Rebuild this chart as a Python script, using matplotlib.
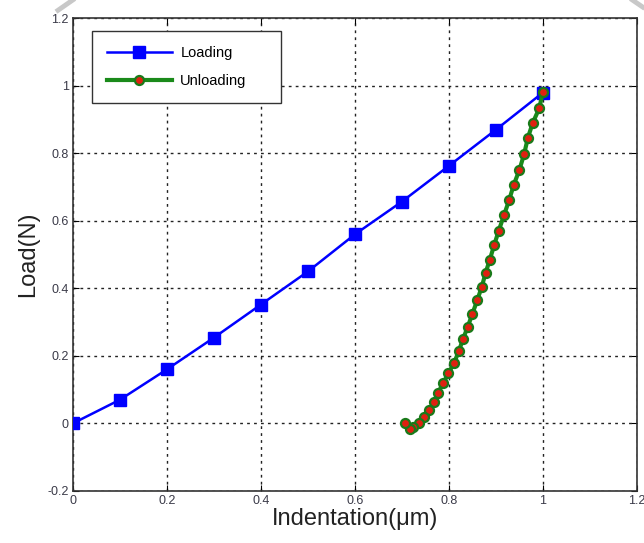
import numpy as np
import matplotlib.pyplot as plt
from matplotlib.lines import Line2D

plt.rcParams['font.family'] = ['Liberation Sans', 'DejaVu Sans']

# Loading curve
load_x = [0, 0.1, 0.2, 0.3, 0.4, 0.5, 0.6, 0.7, 0.8, 0.9, 1.0]
load_y = [0, 0.07, 0.16, 0.254, 0.352, 0.45, 0.56, 0.657, 0.763, 0.87, 0.98]

# Unloading curve
unload_x = [1.0, 0.992, 0.978, 0.968, 0.960, 0.950, 0.938, 0.928, 0.917, 0.906,
            0.896, 0.887, 0.878, 0.870, 0.860, 0.850, 0.840, 0.830, 0.821, 0.811,
            0.799, 0.788, 0.777, 0.768, 0.758, 0.747, 0.737, 0.724, 0.717, 0.706]
unload_y = [0.982, 0.933, 0.889, 0.846, 0.798, 0.751, 0.707, 0.661, 0.616, 0.571,
            0.527, 0.485, 0.446, 0.405, 0.364, 0.325, 0.286, 0.250, 0.214, 0.179,
            0.149, 0.120, 0.091, 0.062, 0.038, 0.019, 0.002, -0.011, -0.016, 0.001]

xticks = [0, 0.2, 0.4, 0.6, 0.8, 1.0, 1.2]
xtick_labels = ['0', '0.2', '0.4', '0.6', '0.8', '1', '1.2']
yticks = [-0.2, 0, 0.2, 0.4, 0.6, 0.8, 1.0, 1.2]
ytick_labels = ['-0.2', '0', '0.2', '0.4', '0.6', '0.8', '1', '1.2']

fig = plt.figure(figsize=(6.44, 5.43), dpi=100)
ax = fig.add_axes([0.1134, 0.0961, 0.8756, 0.8702])

ax.plot(load_x, load_y, color='#0000ff', lw=1.8, marker='s', ms=8,
        mfc='#0000ff', mec='#0000ff', label='Loading', zorder=3)
ax.plot(unload_x, unload_y, color='#1a8a1a', lw=3, marker='o', ms=6.5,
        mfc='#e02010', mec='#1a7a1a', mew=1.6, label='Unloading', zorder=4)

ax.set_xlim(0, 1.2)
ax.set_ylim(-0.2, 1.2)
ax.set_xticks(xticks)
ax.set_xticklabels(xtick_labels)
ax.set_yticks(yticks)
ax.set_yticklabels(ytick_labels)
ax.tick_params(direction='in', length=4, labelsize=9, labelcolor='#3a3a48',
               top=True, right=True, pad=3)
ax.grid(True, color='#222222', linestyle=(0, (2, 3)), linewidth=1.0)
for s in ax.spines.values():
    s.set_color('#333333')
    s.set_linewidth(1.2)

ax.set_xlabel('Indentation(\u03bcm)', fontsize=17, color='#222222', labelpad=1)
ax.set_ylabel('Load(N)', fontsize=17, color='#222222', labelpad=6)

# legend box stretched to the reference width
leg = ax.legend(loc='upper left', bbox_to_anchor=(0.0337, 0.8, 0.335, 0.173),
                mode='expand', fontsize=10.5,
                handlelength=4.45, handletextpad=0.6, borderpad=1.0,
                labelspacing=1.0, borderaxespad=0,
                fancybox=False, framealpha=1, edgecolor='#333333')
leg.get_frame().set_linewidth(1.0)

# faint screenshot corner strokes
fig.add_artist(Line2D([0.090, 0.113], [0.981, 1.0], transform=fig.transFigure,
                      color='#c8c8c8', lw=3.5))
fig.add_artist(Line2D([0.982, 0.998], [1.0, 0.987], transform=fig.transFigure,
                      color='#c8c8c8', lw=3.5))

fig.savefig('out.png', dpi=100)
